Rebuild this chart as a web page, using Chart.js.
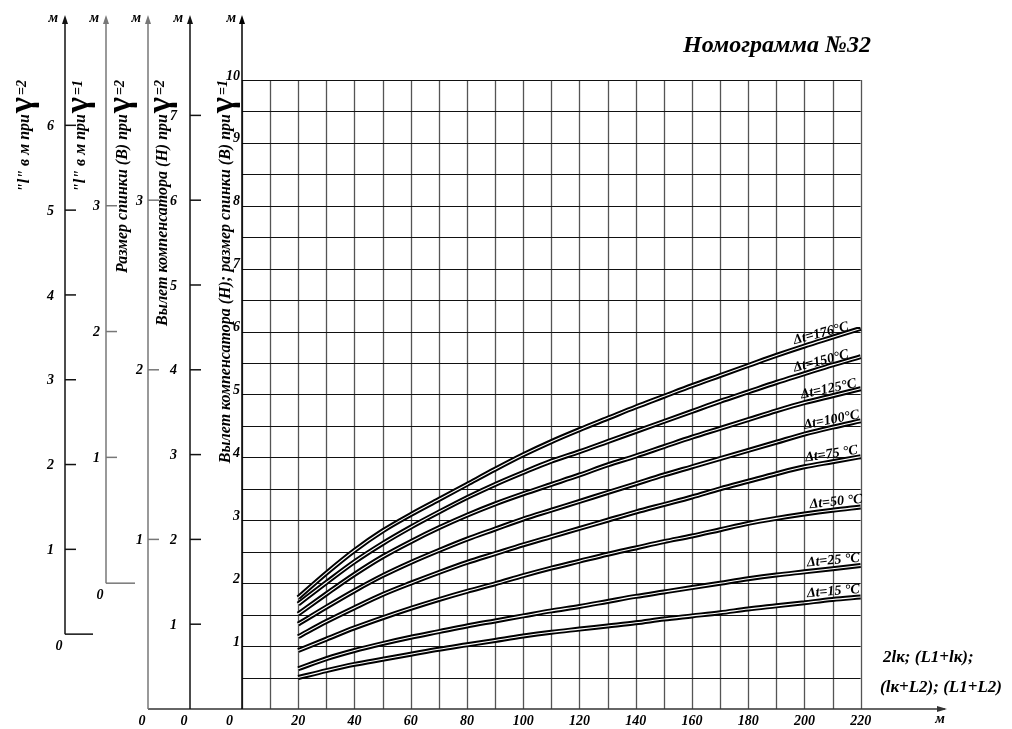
<!DOCTYPE html>
<html>
<head>
<meta charset="utf-8">
<script src="https://cdn.jsdelivr.net/npm/chart.js@4.4.1/dist/chart.umd.min.js"></script>
<style>
  html, body { margin: 0; padding: 0; background: #fff; }
</style>
</head>
<body>
<canvas id="c" width="1012" height="729"></canvas>
<script>
// x values for all curves (2lк; (L1+lк); ... in м)
const xValues = [20, 30, 40, 50, 60, 70, 80, 90, 100, 110, 120, 130, 140, 150, 160, 170, 180, 190, 200, 210, 220];

// Н / В at γ=1, one curve per temperature difference
const dt176 = [1.77, 2.16, 2.52, 2.83, 3.09, 3.33, 3.57, 3.81, 4.04, 4.25, 4.44, 4.62, 4.80, 4.97, 5.14, 5.30, 5.46, 5.62, 5.77, 5.91, 6.05];
const dt150 = [1.67, 2.01, 2.34, 2.63, 2.89, 3.13, 3.36, 3.57, 3.76, 3.94, 4.09, 4.25, 4.41, 4.57, 4.73, 4.89, 5.04, 5.19, 5.33, 5.47, 5.60];
const dt125 = [1.51, 1.83, 2.14, 2.42, 2.66, 2.88, 3.08, 3.26, 3.42, 3.57, 3.72, 3.88, 4.02, 4.17, 4.32, 4.46, 4.60, 4.74, 4.87, 4.98, 5.09];
const dt100 = [1.35, 1.62, 1.88, 2.12, 2.33, 2.52, 2.70, 2.86, 3.02, 3.16, 3.30, 3.44, 3.58, 3.72, 3.85, 3.98, 4.11, 4.24, 4.37, 4.48, 4.58];
const dt75 = [1.15, 1.39, 1.61, 1.82, 2.00, 2.17, 2.33, 2.47, 2.61, 2.74, 2.87, 3.00, 3.13, 3.25, 3.37, 3.50, 3.62, 3.74, 3.85, 3.93, 4.01];
const dt50 = [0.93, 1.11, 1.29, 1.45, 1.60, 1.74, 1.87, 1.99, 2.12, 2.24, 2.35, 2.46, 2.56, 2.66, 2.75, 2.85, 2.95, 3.03, 3.10, 3.16, 3.21];
const dt25 = [0.64, 0.80, 0.93, 1.04, 1.14, 1.23, 1.32, 1.40, 1.48, 1.56, 1.63, 1.71, 1.79, 1.86, 1.93, 2.00, 2.07, 2.13, 2.18, 2.23, 2.28];
const dt15 = [0.50, 0.61, 0.71, 0.79, 0.87, 0.95, 1.02, 1.09, 1.16, 1.22, 1.27, 1.32, 1.37, 1.43, 1.48, 1.53, 1.59, 1.64, 1.69, 1.74, 1.78];

const curves = [dt176, dt150, dt125, dt100, dt75, dt50, dt25, dt15];
const curveNames = ['Δt=176°C', 'Δt=150°C', 'Δt=125°C', 'Δt=100°C', 'Δt=75 °C', 'Δt=50 °C', 'Δt=25 °C', 'Δt=15 °C'];

// tick labels
const xTickLabels = ['20', '40', '60', '80', '100', '120', '140', '160', '180', '200', '220'];
const yTickLabels = ['1', '2', '3', '4', '5', '6', '7', '8', '9', '10'];
const lGamma2Ticks = ['0', '1', '2', '3', '4', '5', '6'];
const lGamma1Ticks = ['0', '1', '2', '3'];
const bGamma2Ticks = ['0', '1', '2', '3'];
const hGamma2Ticks = ['0', '1', '2', '3', '4', '5', '6', '7'];

const SERIF = '"Liberation Serif", "Times New Roman", serif';
const font = (size) => 'italic bold ' + size + 'px ' + SERIF;

// side scales: where their 0 sits and how many main units one step is
const sideAxes = [
  { x: 65, ticks: lGamma2Ticks, zero: 1.19, step: 1.348, color: '#111', foot: 93, labelDx: -11 },
  { x: 106, ticks: lGamma1Ticks, zero: 2.0, step: 2.0, color: '#777', foot: 135, labelDx: -6 },
  { x: 148, ticks: bGamma2Ticks, zero: 0, step: 2.696, color: '#777', labelDx: -5 },
  { x: 190, ticks: hGamma2Ticks, zero: 0, step: 1.348, color: '#111', labelDx: -13 },
];

const sideTitles = [
  { x: 25, text: '"l" в м при', eq: '=2' },
  { x: 81, text: '"l" в м при', eq: '=1' },
  { x: 123, text: 'Размер спинки (В) при', eq: '=2' },
  { x: 163, text: 'Вылет компенсатора (Н) при', eq: '=2' },
  { x: 226, text: 'Вылет компенсатора (Н); размер спинки (В) при', eq: '=1' },
];

// where the Δt labels start along x
const labelAt = [196.5, 196.5, 199, 200, 200.5, 202, 201, 201];

function valueAt(series, x) {
  for (let i = 0; i < xValues.length - 1; i++) {
    if (x >= xValues[i] && x <= xValues[i + 1]) {
      const t = (x - xValues[i]) / (xValues[i + 1] - xValues[i]);
      return series[i] + t * (series[i + 1] - series[i]);
    }
  }
  return series[series.length - 1];
}

function arrowUp(ctx, x, y) {
  ctx.beginPath();
  ctx.moveTo(x, y);
  ctx.lineTo(x - 3, y + 9);
  ctx.lineTo(x + 3, y + 9);
  ctx.closePath();
  ctx.fill();
}

const nomogram = {
  id: 'nomogram',
  beforeDraw(chart) {
    const ctx = chart.ctx;
    ctx.save();
    ctx.fillStyle = '#fff';
    ctx.fillRect(0, 0, chart.width, chart.height);
    ctx.restore();
  },
  beforeDatasetsDraw(chart) {
    const ctx = chart.ctx;
    const xs = chart.scales.x;
    const ys = chart.scales.y;
    ctx.save();
    // vertical grid
    ctx.strokeStyle = '#555';
    ctx.lineWidth = 1.3;
    for (let v = 0; v <= 220; v += 10) {
      const px = Math.round(xs.getPixelForValue(v)) + 0.5;
      ctx.beginPath();
      ctx.moveTo(px, ys.getPixelForValue(0));
      ctx.lineTo(px, ys.getPixelForValue(10));
      ctx.stroke();
    }
    // horizontal grid
    ctx.strokeStyle = '#111';
    ctx.lineWidth = 1;
    for (let v = 0.5; v <= 10; v += 0.5) {
      const py = Math.round(ys.getPixelForValue(v)) + 0.5;
      ctx.beginPath();
      ctx.moveTo(xs.getPixelForValue(0), py);
      ctx.lineTo(xs.getPixelForValue(220), py);
      ctx.stroke();
    }
    ctx.restore();
  },
  afterDatasetsDraw(chart) {
    const ctx = chart.ctx;
    const xs = chart.scales.x;
    const ys = chart.scales.y;
    const x0 = xs.getPixelForValue(0);
    const y0 = ys.getPixelForValue(0);
    const top = 15;
    ctx.save();

    // x axis
    ctx.strokeStyle = '#333';
    ctx.fillStyle = '#333';
    ctx.lineWidth = 1.6;
    ctx.beginPath();
    ctx.moveTo(148, y0);
    ctx.lineTo(xs.getPixelForValue(250), y0);
    ctx.stroke();
    const xe = xs.getPixelForValue(250);
    ctx.beginPath();
    ctx.moveTo(xe + 2, y0);
    ctx.lineTo(xe - 8, y0 - 3);
    ctx.lineTo(xe - 8, y0 + 3);
    ctx.closePath();
    ctx.fill();

    // main y axis
    ctx.strokeStyle = '#000';
    ctx.fillStyle = '#000';
    ctx.lineWidth = 1.5;
    ctx.beginPath();
    ctx.moveTo(x0, y0);
    ctx.lineTo(x0, top + 4);
    ctx.stroke();
    arrowUp(ctx, x0, top);

    ctx.font = font(14);
    ctx.fillStyle = '#000';
    ctx.textAlign = 'right';
    ctx.textBaseline = 'middle';
    yTickLabels.forEach((t) => {
      ctx.fillText(t, x0 - 2, ys.getPixelForValue(+t) - 4);
    });
    ctx.fillText('0', x0 - 9, y0 + 12);
    ctx.fillText('м', x0 - 6, top + 3);

    ctx.textAlign = 'center';
    xTickLabels.forEach((t) => {
      ctx.fillText(t, xs.getPixelForValue(+t), y0 + 12);
    });
    ctx.fillText('м', xe - 5, y0 + 10);

    // side scales
    sideAxes.forEach((a) => {
      const zeroPx = ys.getPixelForValue(a.zero);
      ctx.strokeStyle = a.color;
      ctx.fillStyle = a.color;
      ctx.lineWidth = 1.5;
      ctx.beginPath();
      ctx.moveTo(a.x, zeroPx);
      ctx.lineTo(a.x, top + 4);
      ctx.stroke();
      arrowUp(ctx, a.x, top);
      if (a.foot) {
        ctx.beginPath();
        ctx.moveTo(a.x, zeroPx);
        ctx.lineTo(a.foot, zeroPx);
        ctx.stroke();
      }
      ctx.fillStyle = '#000';
      ctx.font = font(14);
      ctx.textBaseline = 'middle';
      a.ticks.forEach((t, i) => {
        const py = ys.getPixelForValue(a.zero + i * a.step);
        if (i === 0) {
          ctx.textAlign = 'center';
          ctx.fillText(t, a.x - 6, py + 12);
          return;
        }
        ctx.strokeStyle = a.color;
        ctx.beginPath();
        ctx.moveTo(a.x, py);
        ctx.lineTo(a.x + 11, py);
        ctx.stroke();
        ctx.textAlign = 'right';
        ctx.fillText(t, a.x + a.labelDx, py + 1);
      });
      ctx.textAlign = 'right';
      ctx.fillText('м', a.x - 7, top + 3);
    });

    // rotated axis titles
    sideTitles.forEach((s) => {
      ctx.save();
      ctx.translate(s.x, 114);
      ctx.rotate(-Math.PI / 2);
      ctx.fillStyle = '#000';
      ctx.textBaseline = 'middle';
      ctx.font = font(16);
      ctx.textAlign = 'right';
      ctx.fillText(s.text, 0, 0);
      ctx.textAlign = 'left';
      ctx.font = 'bold 34px ' + SERIF;
      ctx.fillText('γ', 1, -2);
      const gw = ctx.measureText('γ').width;
      ctx.font = font(14);
      ctx.fillText(s.eq, gw + 3, -3);
      ctx.restore();
    });

    // Δt labels along the curves
    ctx.fillStyle = '#000';
    ctx.font = font(14);
    ctx.textAlign = 'left';
    ctx.textBaseline = 'alphabetic';
    curves.forEach((series, i) => {
      const lx = labelAt[i];
      const px = xs.getPixelForValue(lx);
      const py = ys.getPixelForValue(valueAt(series, lx));
      const pa = ys.getPixelForValue(valueAt(series, 200));
      const pb = ys.getPixelForValue(valueAt(series, 220));
      const ang = Math.atan2(pb - pa, xs.getPixelForValue(220) - xs.getPixelForValue(200)) * 0.85;
      ctx.save();
      ctx.translate(px, py - 5);
      ctx.rotate(ang);
      ctx.fillText(curveNames[i], 0, 0);
      ctx.restore();
    });

    // title and x axis caption
    ctx.font = font(24);
    ctx.textAlign = 'left';
    ctx.fillText('Номограмма №32', 683, 52);
    ctx.font = font(17);
    ctx.fillText('2lк; (L1+lк);', 883, 662);
    ctx.fillText('(lк+L2); (L1+L2)', 880, 692);

    ctx.restore();
  },
};

const datasets = [];
curves.forEach((series, i) => {
  const pts = xValues.map((x, j) => ({ x: x, y: series[j] }));
  datasets.push({
    label: curveNames[i],
    data: pts,
    borderColor: '#000',
    borderWidth: 5,
    pointRadius: 0,
    cubicInterpolationMode: 'monotone',
    order: 2,
  });
  datasets.push({
    label: curveNames[i] + ' inner',
    data: pts,
    borderColor: '#fff',
    borderWidth: 1.1,
    pointRadius: 0,
    cubicInterpolationMode: 'monotone',
    order: 1,
  });
});

new Chart(document.getElementById('c'), {
  type: 'line',
  data: { datasets: datasets },
  options: {
    responsive: false,
    animation: false,
    layout: { padding: { left: 242, right: 67, top: 17, bottom: 20 } },
    scales: {
      x: { type: 'linear', min: 0, max: 250, display: false },
      y: { type: 'linear', min: 0, max: 11, display: false },
    },
    plugins: { legend: { display: false }, tooltip: { enabled: false } },
  },
  plugins: [nomogram],
});
</script>
</body>
</html>
